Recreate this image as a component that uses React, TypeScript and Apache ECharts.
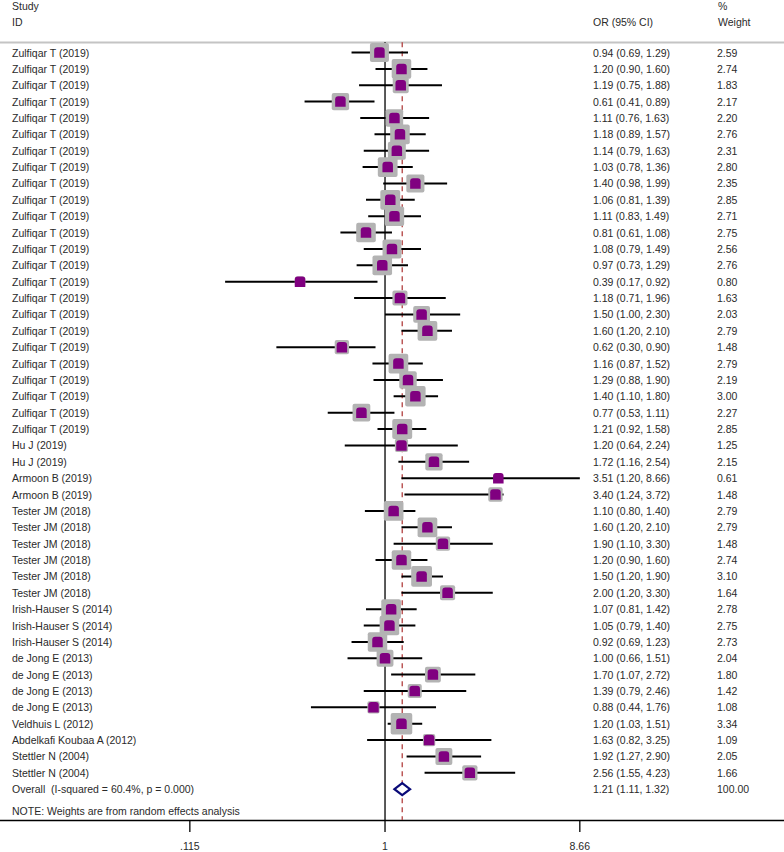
import React, { useEffect, useRef } from "react";
import * as echarts from "echarts";

const studies = [
  "Zulfiqar T (2019)", "Zulfiqar T (2019)", "Zulfiqar T (2019)", "Zulfiqar T (2019)",
  "Zulfiqar T (2019)", "Zulfiqar T (2019)", "Zulfiqar T (2019)", "Zulfiqar T (2019)",
  "Zulfiqar T (2019)", "Zulfiqar T (2019)", "Zulfiqar T (2019)", "Zulfiqar T (2019)",
  "Zulfiqar T (2019)", "Zulfiqar T (2019)", "Zulfiqar T (2019)", "Zulfiqar T (2019)",
  "Zulfiqar T (2019)", "Zulfiqar T (2019)", "Zulfiqar T (2019)", "Zulfiqar T (2019)",
  "Zulfiqar T (2019)", "Zulfiqar T (2019)", "Zulfiqar T (2019)", "Zulfiqar T (2019)",
  "Hu J (2019)", "Hu J (2019)", "Armoon B (2019)", "Armoon B (2019)",
  "Tester JM (2018)", "Tester JM (2018)", "Tester JM (2018)", "Tester JM (2018)",
  "Tester JM (2018)", "Tester JM (2018)",
  "Irish-Hauser S (2014)", "Irish-Hauser S (2014)", "Irish-Hauser S (2014)",
  "de Jong E (2013)", "de Jong E (2013)", "de Jong E (2013)", "de Jong E (2013)",
  "Veldhuis L (2012)", "Abdelkafi Koubaa A (2012)", "Stettler N (2004)", "Stettler N (2004)",
];

const orValues = [
  0.94, 1.20, 1.19, 0.61, 1.11, 1.18, 1.14, 1.03, 1.40, 1.06, 1.11, 0.81,
  1.08, 0.97, 0.39, 1.18, 1.50, 1.60, 0.62, 1.16, 1.29, 1.40, 0.77, 1.21,
  1.20, 1.72, 3.51, 3.40, 1.10, 1.60, 1.90, 1.20, 1.50, 2.00,
  1.07, 1.05, 0.92, 1.00, 1.70, 1.39, 0.88, 1.20, 1.63, 1.92, 2.56,
];

const ciLower = [
  0.69, 0.90, 0.75, 0.41, 0.76, 0.89, 0.79, 0.78, 0.98, 0.81, 0.83, 0.61,
  0.79, 0.73, 0.17, 0.71, 1.00, 1.20, 0.30, 0.87, 0.88, 1.10, 0.53, 0.92,
  0.64, 1.16, 1.20, 1.24, 0.80, 1.20, 1.10, 0.90, 1.20, 1.20,
  0.81, 0.79, 0.69, 0.66, 1.07, 0.79, 0.44, 1.03, 0.82, 1.27, 1.55,
];

const ciUpper = [
  1.29, 1.60, 1.88, 0.89, 1.63, 1.57, 1.63, 1.36, 1.99, 1.39, 1.49, 1.08,
  1.49, 1.29, 0.92, 1.96, 2.30, 2.10, 0.90, 1.52, 1.90, 1.80, 1.11, 1.58,
  2.24, 2.54, 8.66, 3.72, 1.40, 2.10, 3.30, 1.60, 1.90, 3.30,
  1.42, 1.40, 1.23, 1.51, 2.72, 2.46, 1.76, 1.51, 3.25, 2.90, 4.23,
];

const weights = [
  2.59, 2.74, 1.83, 2.17, 2.20, 2.76, 2.31, 2.80, 2.35, 2.85, 2.71, 2.75,
  2.56, 2.76, 0.80, 1.63, 2.03, 2.79, 1.48, 2.79, 2.19, 3.00, 2.27, 2.85,
  1.25, 2.15, 0.61, 1.48, 2.79, 2.79, 1.48, 2.74, 3.10, 1.64,
  2.78, 2.75, 2.73, 2.04, 1.80, 1.42, 1.08, 3.34, 1.09, 2.05, 1.66,
];

const overallLabel = "Overall  (I-squared = 60.4%, p = 0.000)";
const overallOR = 1.21;
const overallLower = 1.11;
const overallUpper = 1.32;
const overallWeight = 100.0;

const tickValues = [0.115, 1, 8.66];
const tickLabels = [".115", "1", "8.66"];

const FONT = "'Liberation Sans', Arial, sans-serif";
const TEXT_COLOR = "#2a2a2a";
const FS = 10.5;

const X_MIN = 0.01403;
const X_MAX = 83.2;
const Y_MIN = -3.207;
const Y_MAX = 46.88;
const LINE_TOP = -0.62;
const OVERALL_ROW = studies.length;

const fmt = (v: number) => v.toFixed(2);

export default function App() {
  const ref = useRef<HTMLDivElement>(null);

  useEffect(() => {
    if (!ref.current) return;
    const chart = echarts.init(ref.current, null, { renderer: "svg" });

    const studyData = studies.map((_, i) => [orValues[i], i, ciLower[i], ciUpper[i], weights[i]]);

    const textData = studies.map((_, i) => [1, i]).concat([[1, OVERALL_ROW]]);

    const option: any = {
      animation: false,
      backgroundColor: "#ffffff",
      grid: { left: 0, right: 0, top: 0, bottom: 32, containLabel: false },
      xAxis: {
        type: "log",
        logBase: 10,
        min: X_MIN,
        max: X_MAX,
        axisLine: { show: true, onZero: false, lineStyle: { color: "#000", width: 1.3 } },
        axisTick: { show: false },
        axisLabel: { show: false },
        splitLine: { show: false },
      },
      yAxis: {
        type: "value",
        min: Y_MIN,
        max: Y_MAX,
        inverse: true,
        show: false,
        splitLine: { show: false },
      },
      graphic: [
        { type: "line", shape: { x1: 0, y1: 42.5, x2: 784, y2: 42.5 }, style: { stroke: "#c4c4c4", lineWidth: 2 } },
        { type: "text", x: 12, y: 6, style: { text: "Study", font: `${FS}px ${FONT}`, fill: TEXT_COLOR, verticalAlign: "middle" } },
        { type: "text", x: 12, y: 22, style: { text: "ID", font: `${FS}px ${FONT}`, fill: TEXT_COLOR, verticalAlign: "middle" } },
        { type: "text", x: 593, y: 22, style: { text: "OR (95% CI)", font: `${FS}px ${FONT}`, fill: TEXT_COLOR, verticalAlign: "middle" } },
        { type: "text", x: 718, y: 6, style: { text: "%", font: `${FS}px ${FONT}`, fill: TEXT_COLOR, verticalAlign: "middle" } },
        { type: "text", x: 718, y: 22, style: { text: "Weight", font: `${FS}px ${FONT}`, fill: TEXT_COLOR, verticalAlign: "middle" } },
        { type: "text", x: 12, y: 811, style: { text: "NOTE: Weights are from random effects analysis", font: `${FS}px ${FONT}`, fill: TEXT_COLOR, verticalAlign: "middle" } },
      ],
      series: [
        {
          type: "line",
          data: [[1, LINE_TOP], [1, Y_MAX]],
          symbol: "none",
          lineStyle: { color: "#000", width: 1.3 },
          silent: true,
          z: 1,
        },
        {
          type: "line",
          data: [[overallOR, LINE_TOP], [overallOR, Y_MAX]],
          symbol: "none",
          lineStyle: { color: "#b2403f", width: 1.3, type: [5, 4] },
          silent: true,
          z: 1,
        },
        {
          type: "custom",
          z: 3,
          silent: true,
          data: studyData,
          renderItem: (params: any, api: any) => {
            const row = api.value(1);
            const c = api.coord([api.value(0), row]);
            const lo = api.coord([api.value(2), row]);
            const hi = api.coord([api.value(3), row]);
            const w = api.value(4);
            const side = 11.8 * Math.sqrt(w);
            const m = 10.5;
            return {
              type: "group",
              children: [
                { type: "line", shape: { x1: lo[0], y1: c[1], x2: hi[0], y2: c[1] }, style: { stroke: "#000", lineWidth: 2 } },
                { type: "rect", shape: { x: c[0] - side / 2, y: c[1] - side / 2, width: side, height: side, r: 2 }, style: { fill: "#b3b3b3" } },
                { type: "rect", shape: { x: c[0] - m / 2, y: c[1] - m / 2, width: m, height: m, r: [3, 3, 0, 0] }, style: { fill: "#800080" } },
              ],
            };
          },
        },
        {
          type: "custom",
          z: 4,
          silent: true,
          data: [[overallOR, OVERALL_ROW, overallLower, overallUpper]],
          renderItem: (params: any, api: any) => {
            const row = api.value(1);
            const c = api.coord([api.value(0), row]);
            const lo = api.coord([api.value(2), row]);
            const hi = api.coord([api.value(3), row]);
            const h = 6;
            return {
              type: "polygon",
              shape: { points: [[lo[0], c[1]], [c[0], c[1] - h], [hi[0], c[1]], [c[0], c[1] + h]] },
              style: { fill: "#fff", stroke: "#0a0a78", lineWidth: 2.2 },
            };
          },
        },
        {
          type: "custom",
          z: 5,
          silent: true,
          data: textData,
          renderItem: (params: any, api: any) => {
            const i = params.dataIndex;
            const y = api.coord([1, api.value(1)])[1];
            const isOverall = i >= studies.length;
            const name = isOverall ? overallLabel : studies[i];
            const or = isOverall ? overallOR : orValues[i];
            const lo = isOverall ? overallLower : ciLower[i];
            const hi = isOverall ? overallUpper : ciUpper[i];
            const wt = isOverall ? overallWeight : weights[i];
            const st = (text: string) => ({ text, font: `${FS}px ${FONT}`, fill: TEXT_COLOR, verticalAlign: "middle" });
            return {
              type: "group",
              children: [
                { type: "text", x: 12, y, style: st(name) },
                { type: "text", x: 593, y, style: st(`${fmt(or)} (${fmt(lo)}, ${fmt(hi)})`) },
                { type: "text", x: 717, y, style: st(fmt(wt)) },
              ],
            };
          },
        },
        {
          type: "custom",
          z: 5,
          silent: true,
          clip: false,
          data: tickValues.map((v) => [v, Y_MAX]),
          renderItem: (params: any, api: any) => {
            const p = api.coord([api.value(0), api.value(1)]);
            return {
              type: "group",
              children: [
                { type: "line", shape: { x1: p[0], y1: p[1], x2: p[0], y2: p[1] + 12 }, style: { stroke: "#000", lineWidth: 1.3 } },
                {
                  type: "text",
                  x: p[0],
                  y: p[1] + 26,
                  style: { text: tickLabels[params.dataIndex], font: `${FS}px ${FONT}`, fill: TEXT_COLOR, align: "center", verticalAlign: "middle" },
                },
              ],
            };
          },
        },
      ],
    };

    chart.setOption(option);
    return () => chart.dispose();
  }, []);

  return (
    <div
      ref={ref}
      style={{ position: "fixed", left: 0, top: 0, width: 784, height: 852, background: "#fff" }}
    />
  );
}
